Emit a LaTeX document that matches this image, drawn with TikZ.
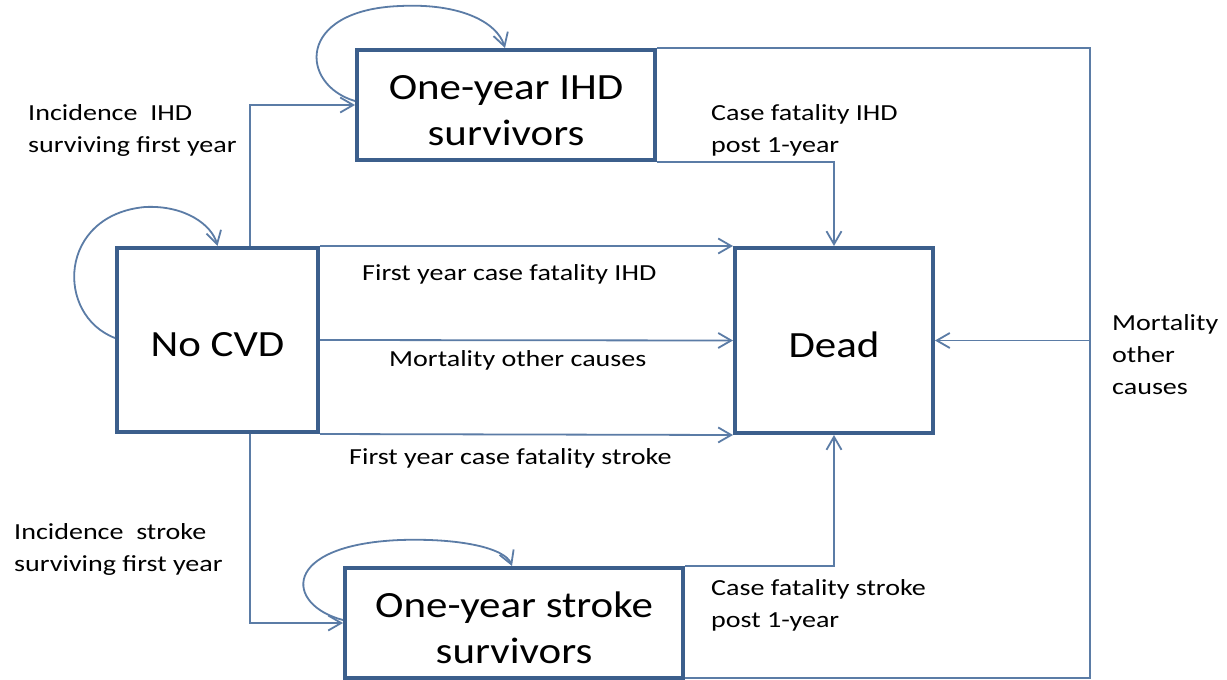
\documentclass[tikz,border=0pt]{standalone}
\usepackage{fontspec}
\setmainfont{Carlito}
\newfontfamily\lblfont{Carlito}[FakeStretch=1.22]
\newfontfamily\boxfont{Carlito}[FakeStretch=1.16]
\usetikzlibrary{arrows.meta,calc}
\definecolor{boxblue}{HTML}{3C5F8C}
\definecolor{lineblue}{HTML}{5B7CA6}
\begin{document}
\begin{tikzpicture}[x=1pt,y=-1pt,
  state/.style={draw=boxblue,line width=4pt,fill=white,inner sep=0pt,align=center,font=\boxfont\fontsize{37}{46}\selectfont},
  conn/.style={draw=lineblue,line width=1.8pt,-{Straight Barb[length=13pt,width=15pt]}},
  plain/.style={draw=lineblue,line width=1.8pt},
  lbl/.style={inner sep=0pt,align=left,font=\lblfont\fontsize{23}{32}\selectfont,anchor=base west}]
\useasboundingbox (0,0) rectangle (1227,680);
\fill[white] (0,0) rectangle (1227,680);
\node[state,minimum width=298pt,minimum height=110pt] (ihd) at (506,105) {\rule{0pt}{36pt}One-year IHD\\survivors};
\node[state,minimum width=201pt,minimum height=184pt] (nocvd) at (217.5,340) {\rule{0pt}{34pt}No CVD};
\node[state,minimum width=198pt,minimum height=185pt] (dead) at (834,340.5) {\rule{0pt}{34pt}Dead};
\node[state,minimum width=338pt,minimum height=110pt] (stroke) at (514,623) {\rule{0pt}{36pt}One-year stroke\\survivors};
\coordinate (mx) at (1090,340.5);
\draw[conn] ([xshift=32.5pt]nocvd.north) |- (ihd.west);
\draw[conn] ([xshift=32.5pt]nocvd.south) |- (stroke.west);
\draw[conn] (nocvd.north east) -- (dead.north west);
\draw[conn] (nocvd.east) -- (dead.west);
\draw[conn] (nocvd.south east) -- (dead.south west);
\draw[conn] (ihd.south east) -| (dead.north);
\draw[conn] (stroke.north east) -| (dead.south);
\draw[plain] (ihd.north east) -| (mx) |- ([yshift=2pt]stroke.south east);
\draw[conn] (mx) -- (dead.east);
\draw[conn] ([yshift=4pt]ihd.west) .. controls (300,85) and (295,10) .. (400,6) .. controls (460,3) and (497,22) .. ([xshift=-1pt]ihd.north);
\draw[conn] ([yshift=2pt]nocvd.west) .. controls (55,315) and (58,215) .. (145,207) .. controls (185,205) and (212,225) .. (nocvd.north);
\draw[conn] ([yshift=3pt]stroke.west) .. controls (285,605) and (280,545) .. (400,540) .. controls (460,538) and (505,548) .. ([xshift=-2pt]stroke.north);
\node[lbl] (l1) at (28,152) {Incidence\ \ IHD\\surviving first year};
\node[lbl] (l2) at (711,152) {Case fatality IHD\\post 1-year};
\node[lbl] (l3) at (362,280) {First year case fatality IHD};
\node[lbl] (l4) at (389,366) {Mortality other causes};
\node[lbl] (l5) at (349,464) {First year case fatality stroke};
\node[lbl] (l6) at (14,571) {Incidence\ \ stroke\\surviving first year};
\node[lbl] (l7) at (711,627) {Case fatality stroke\\post 1-year};
\node[lbl] (l8) at (1112,394) {Mortality\\other\\causes};
\end{tikzpicture}
\end{document}
